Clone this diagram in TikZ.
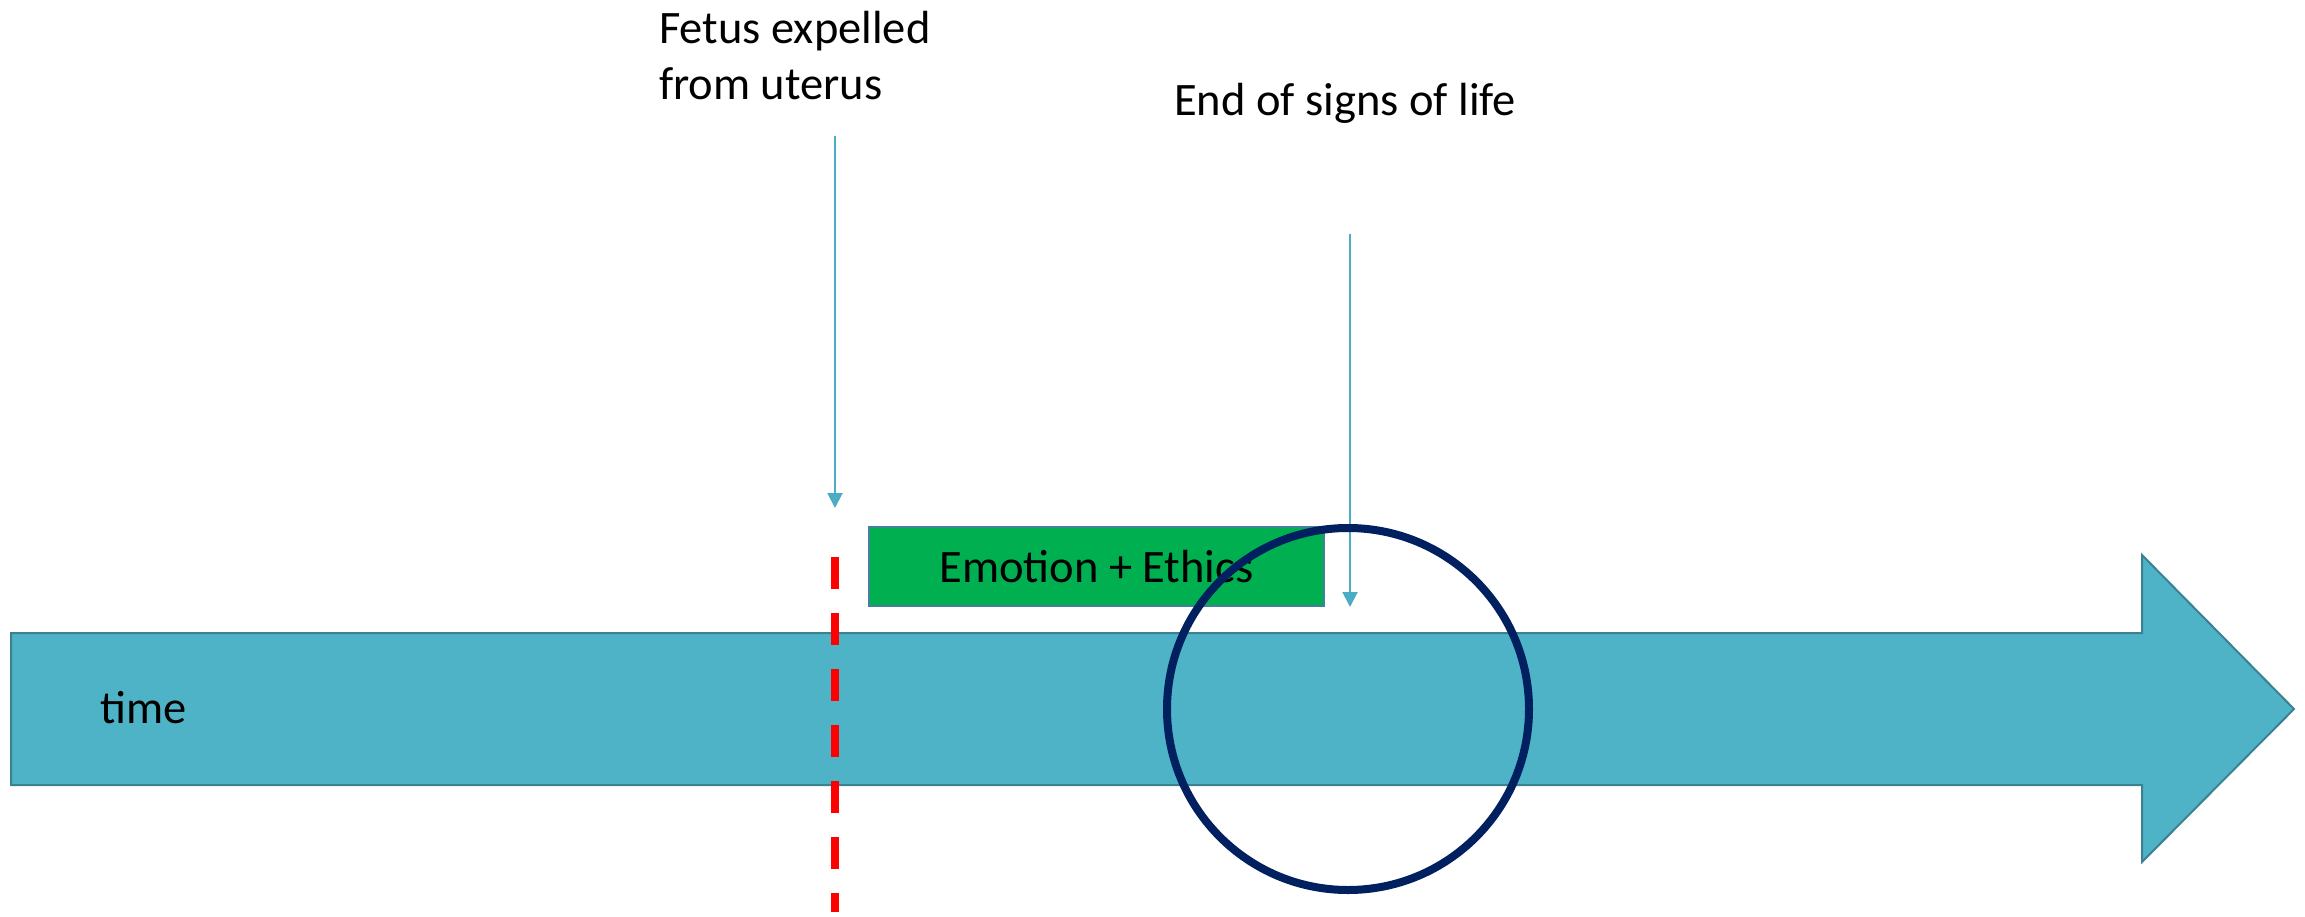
\documentclass[tikz,border=0pt]{standalone}
\usepackage{fontspec}
\setmainfont{Carlito}
\usetikzlibrary{arrows.meta}
\definecolor{timefill}{HTML}{4FB3C8}
\definecolor{timeedge}{HTML}{3A8291}
\definecolor{ptr}{HTML}{4BACC6}
\definecolor{emo}{HTML}{00B050}
\definecolor{emoedge}{HTML}{41819A}
\definecolor{navy}{HTML}{002060}
\begin{document}
\begin{tikzpicture}[x=1pt,y=-1pt,
  lbl/.style={anchor=base west, inner sep=0pt, font=\fontsize{46.5}{56}\selectfont},
  ptrarrow/.style={draw=ptr, line width=2pt, -{Triangle[width=15pt,length=15pt]}},
  timebar/.style={fill=timefill, draw=timeedge, line width=2pt, line join=miter},
  emobox/.style={fill=emo, draw=emoedge, line width=1.5pt, inner sep=0pt,
    minimum width=455pt, minimum height=79pt, text height=31pt, text depth=0pt,
    font=\fontsize{46.5}{56}\selectfont},
  ring/.style={circle, draw=navy, line width=8pt, inner sep=0pt, minimum size=362pt},
  cutline/.style={draw=red, line width=8pt, dash pattern=on 32pt off 24pt}]
\useasboundingbox (0,0) rectangle (2305,916);
\fill[white] (0,0) rectangle (2305,916);
% time arrow
\draw[timebar] (11,633) -- (2142,633) -- (2142,555) -- (2294,709) -- (2142,862) -- (2142,785) -- (11,785) -- cycle;
\node[lbl] (time) at (100,723) {time};
% red dashed line
\coordinate (cutTop) at (835,557);
\coordinate (cutBot) at (835,912);
\draw[cutline] (cutTop) -- (cutBot);
% green box
\node[emobox] (emo) at (1096.5,566.5) {Emotion + Ethics};
% labels
\node[lbl] (fetus) at (659,43) {\begin{tabular}[t]{@{}l@{}}Fetus expelled\\from uterus\end{tabular}};
\node[lbl] (end) at (1174,115) {End of signs of life};
% pointer arrows
\coordinate (p1s) at (835,136);
\coordinate (p1e) at (835,508);
\coordinate (p2s) at (1350,234);
\coordinate (p2e) at (1350,607);
\draw[ptrarrow] (p1s) -- (p1e);
\draw[ptrarrow] (p2s) -- (p2e);
% circle
\node[ring] (circ) at (1348,709) {};
\end{tikzpicture}
\end{document}
